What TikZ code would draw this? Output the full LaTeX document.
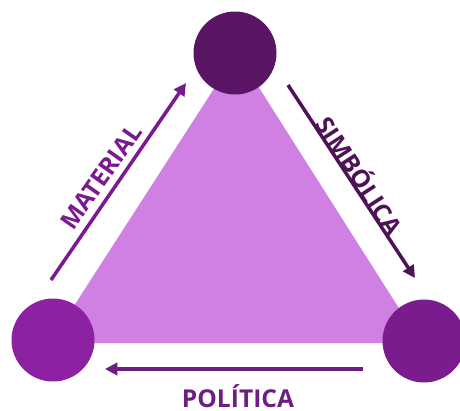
\documentclass[tikz,border=0pt]{standalone}
\usepackage{fontspec}
\setmainfont{Open Sans}
\usetikzlibrary{arrows.meta}
\definecolor{tri}{HTML}{CF80E2}
\definecolor{topc}{HTML}{5B1565}
\definecolor{leftc}{HTML}{8C22A2}
\definecolor{rightc}{HTML}{7A1C8E}
\definecolor{arrA}{HTML}{7A1A90}
\definecolor{arrB}{HTML}{4E1256}
\definecolor{arrC}{HTML}{6C1F80}
\tikzset{
  vertex/.style={circle, minimum size=83*0.02cm, inner sep=0pt},
  flow/.style={line width=2pt, -{Triangle[length=7pt,width=7pt]}},
  tag/.style={font=\fontsize{14}{16}\selectfont\bfseries, inner sep=0pt}
}
\begin{document}
\begin{tikzpicture}[x=0.02cm,y=-0.02cm]
  \useasboundingbox (0,0) rectangle (460,410);
  \clip (0,0) rectangle (460,410);
  % corner points of the triangle
  \coordinate (pt) at (237,53);
  \coordinate (pl) at (50,343);
  \coordinate (pr) at (421,343);
  \fill[tri] (pt) -- (pl) -- (pr) -- cycle;
  % the three circles
  \node[vertex, fill=topc] (top) at (235,53) {};
  \node[vertex, fill=leftc] (left) at (53,340) {};
  \node[vertex, fill=rightc] (right) at (424,341) {};
  % arrows along the sides
  \coordinate (a1) at (51,280);  \coordinate (a2) at (186,83);
  \coordinate (b1) at (288,85);  \coordinate (b2) at (415,278);
  \coordinate (c1) at (363,369); \coordinate (c2) at (105,369);
  \draw[flow, arrA] (a1) -- (a2);
  \draw[flow, arrB] (b1) -- (b2);
  \draw[flow, arrC] (c1) -- (c2);
  % labels
  \node[tag, text=arrA, rotate=55] (mat) at (101,177) {MATERIAL};
  \node[tag, text=arrB, rotate=-57] (sim) at (361,175) {SIMBÓLICA};
  \node[tag, text=arrC, anchor=base] (pol) at (238,407) {POLÍTICA};
\end{tikzpicture}
\end{document}
